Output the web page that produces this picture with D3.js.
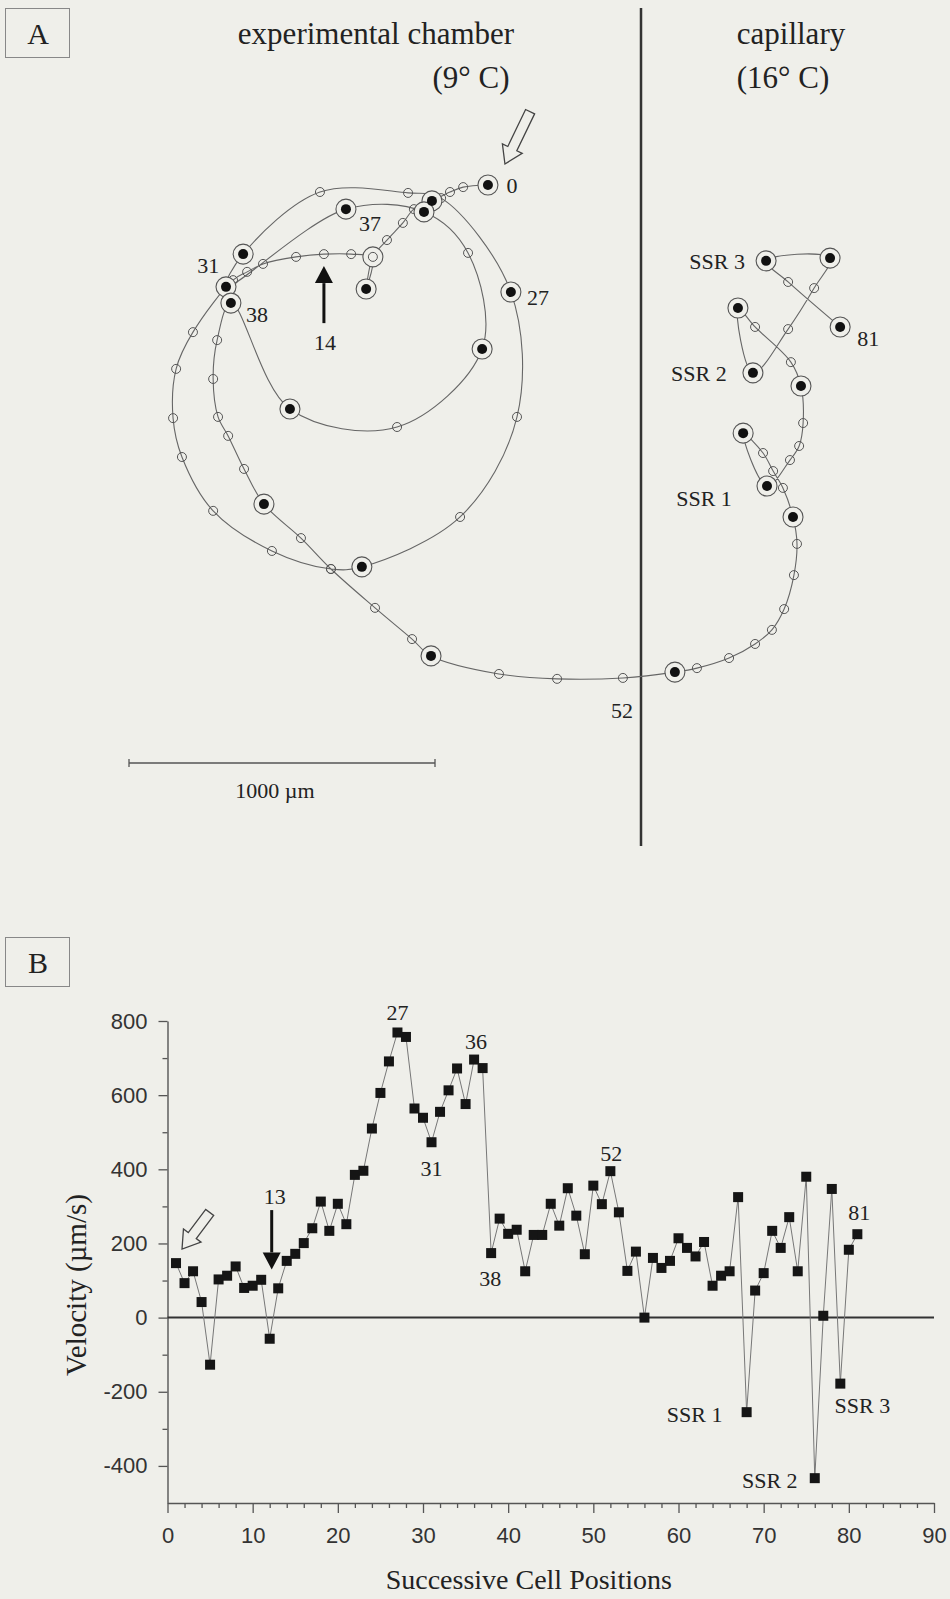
<!DOCTYPE html>
<html>
<head>
<meta charset="utf-8">
<script src="https://cdn.jsdelivr.net/npm/d3@7"></script>
<style>
  html, body { margin: 0; padding: 0; background: #efefea; }
  svg { display: block; }
  .serif { font-family: "Liberation Serif", "Times New Roman", serif; fill: #222; }
  .tick text { font-family: "Liberation Sans", Arial, sans-serif; fill: #333; }
</style>
</head>
<body>
<div id="chart"></div>
<script>
// Cell track and velocity figure
// Panel A: path of one cell, panel B: its velocity at each successive position

// --- Panel A data: track positions in µm (x to the right, y upwards) ---
const trackX = [1173, 1092, 1049, 990, 931, 895, 843, 797, 775, 794,
  726, 637, 546, 438, 386, 340, 209, 154, 144, 173,
  275, 467, 660, 761, 1082, 1268, 1248, 1020, 912, 624, 373,
  317, 709, 964, 1108, 1154, 876, 526, 333, 288, 275,
  291, 324, 376, 441, 562, 660, 804, 925, 987, 1209,
  1399, 1614, 1784, 1856, 1961, 2046, 2101, 2141, 2173, 2183,
  2170, 2137, 2105, 2072, 2007, 2085, 2160, 2190, 2203, 2196,
  2163, 2046, 1990, 2039, 2154, 2239, 2291, 2082, 2154, 2324];
const trackY = [1889, 1882, 1866, 1837, 1810, 1765, 1709, 1654, 1549, 1650,
  1663, 1663, 1654, 1631, 1605, 1578, 1408, 1288, 1127, 1000,
  824, 693, 634, 641, 804, 1131, 1539, 1846, 1863, 1866, 1663,
  1556, 1810, 1801, 1667, 1353, 1098, 1157, 1503, 1382, 1255,
  1131, 1069, 961, 846, 735, 634, 507, 405, 350, 291,
  275, 278, 297, 310, 343, 389, 435, 503, 614, 716,
  804, 899, 954, 1013, 1078, 905, 990, 1036, 1111, 1232,
  1310, 1425, 1487, 1275, 1418, 1552, 1650, 1641, 1572, 1425];
// F = marked position (ring with dot), o = plain position, r = ring only
const trackKind = ['F', 'o', 'o', 'F', 'o', 'o', 'o', 'r', 'F', 'o',
  'o', 'o', 'o', 'o', 'o', 'o', 'o', 'o', 'o', 'o',
  'o', 'o', 'o', 'F', 'o', 'o', 'F', 'o', 'o', 'o', 'F',
  'F', 'F', 'F', 'o', 'F', 'o', 'F', 'F', 'o', 'o',
  'o', 'o', 'o', 'F', 'o', 'o', 'o', 'o', 'F', 'o',
  'o', 'o', 'F', 'o', 'o', 'o', 'o', 'o', 'o', 'o',
  'F', 'o', 'o', 'o', 'F', 'F', 'o', 'o', 'o', 'F',
  'o', 'o', 'F', 'F', 'o', 'o', 'F', 'F', 'o', 'F'];

const scaleBarLength = 1000; // µm

// --- Panel B data ---
const positions = d3.range(1, 82);
const velocity = [147, 93, 125, 42, -127, 103, 113, 138, 80, 86,
  102, -57, 79, 153, 172, 201, 241, 313, 234, 307,
  252, 385, 396, 510, 606, 691, 769, 757, 564, 539,
  473, 555, 613, 672, 576, 696, 673, 174, 267, 226,
  237, 125, 223, 223, 307, 248, 349, 275, 171, 356,
  306, 395, 284, 126, 178, 0, 161, 134, 153, 214,
  188, 165, 204, 86, 113, 125, 325, -255, 73, 120,
  234, 188, 271, 125, 380, -433, 5, 347, -178, 183,
  225];
const yTicksB = [-400, -200, 0, 200, 400, 600, 800];
const yMinorB = [-300, -100, 100, 300, 500, 700];
const xTicksB = d3.range(0, 91, 10);
const xMinorB = d3.range(2, 90, 2).filter(d => d % 10 !== 0);

const W = 950, H = 1599;
const lineGrey = '#666', bg = '#efefea';

const svg = d3.select('#chart').append('svg')
  .attr('width', W)
  .attr('height', H);

svg.append('rect').attr('width', W).attr('height', H).attr('fill', bg);

// small helpers for the arrows
function openArrow(g, tipX, tipY, angle, len) {
  const hw = 5, headW = 11, headL = 17;
  const pts = [[0, -hw], [len - headL, -hw], [len - headL, -headW], [len, 0],
    [len - headL, headW], [len - headL, hw], [0, hw]];
  g.append('polygon')
    .attr('points', pts.map(p => p.join(',')).join(' '))
    .attr('transform', `translate(${tipX},${tipY}) rotate(${angle}) translate(${-len},0)`)
    .attr('fill', 'none')
    .attr('stroke', '#444')
    .attr('stroke-width', 1.3);
}

function solidArrow(g, x, yTail, yTip) {
  const headL = 17, headW = 9, dir = Math.sign(yTip - yTail);
  g.append('line')
    .attr('x1', x).attr('x2', x)
    .attr('y1', yTail).attr('y2', yTip - dir * headL)
    .attr('stroke', '#111').attr('stroke-width', 3);
  g.append('polygon')
    .attr('points', `${x},${yTip} ${x - headW},${yTip - dir * headL} ${x + headW},${yTip - dir * headL}`)
    .attr('fill', '#111');
}

function panelBox(letter, y) {
  svg.append('rect')
    .attr('x', 5.5).attr('y', y + 0.5)
    .attr('width', 64).attr('height', 49)
    .attr('fill', 'none').attr('stroke', '#888').attr('stroke-width', 1);
  svg.append('text').attr('class', 'serif')
    .attr('x', 38).attr('y', y + 25).attr('dy', '0.35em')
    .attr('text-anchor', 'middle')
    .style('font-size', '30px')
    .text(letter);
}

// ================= Panel A =================
const gA = svg.append('g');
panelBox('A', 8);

const xA = d3.scaleLinear().domain([0, 1000]).range([129, 435]);
const yA = d3.scaleLinear().domain([0, 1000]).range([763, 457]);

const titles = [
  { text: 'experimental chamber', x: 376, y: 33 },
  { text: '(9° C)', x: 471, y: 77 },
  { text: 'capillary', x: 791, y: 33 },
  { text: '(16° C)', x: 783, y: 77 }
];
gA.selectAll('.title').data(titles).enter().append('text')
  .attr('class', 'serif title')
  .attr('x', d => d.x).attr('y', d => d.y).attr('dy', '0.35em')
  .attr('text-anchor', 'middle')
  .style('font-size', '31px')
  .text(d => d.text);

// divider between chamber and capillary
gA.append('line')
  .attr('x1', 641).attr('x2', 641)
  .attr('y1', 8).attr('y2', 846)
  .attr('stroke', '#333').attr('stroke-width', 2.5);

const track = trackX.map((x, i) => ({ i, x, y: trackY[i], kind: trackKind[i] }));

const trackLine = d3.line()
  .x(d => xA(d.x))
  .y(d => yA(d.y))
  .curve(d3.curveCatmullRom.alpha(0.5));

gA.append('path')
  .datum(track)
  .attr('d', trackLine)
  .attr('fill', 'none')
  .attr('stroke', lineGrey)
  .attr('stroke-width', 1.1);

// plain positions
gA.selectAll('.pos').data(track.filter(d => d.kind === 'o')).enter().append('circle')
  .attr('class', 'pos')
  .attr('cx', d => xA(d.x)).attr('cy', d => yA(d.y))
  .attr('r', 4.5)
  .attr('fill', 'none')
  .attr('stroke', '#555').attr('stroke-width', 1);

// marked positions: ring, then dot
const marked = track.filter(d => d.kind !== 'o');
gA.selectAll('.ring').data(marked).enter().append('circle')
  .attr('class', 'ring')
  .attr('cx', d => xA(d.x)).attr('cy', d => yA(d.y))
  .attr('r', 10)
  .attr('fill', bg)
  .attr('stroke', '#555').attr('stroke-width', 1.1);
gA.selectAll('.inner').data(track.filter(d => d.kind === 'r')).enter().append('circle')
  .attr('class', 'inner')
  .attr('cx', d => xA(d.x)).attr('cy', d => yA(d.y))
  .attr('r', 4.5)
  .attr('fill', 'none')
  .attr('stroke', '#555').attr('stroke-width', 1);
gA.selectAll('.dot').data(track.filter(d => d.kind === 'F')).enter().append('circle')
  .attr('class', 'dot')
  .attr('cx', d => xA(d.x)).attr('cy', d => yA(d.y))
  .attr('r', 5)
  .attr('fill', '#111');

// labels next to the track
const notesA = [
  { text: '0', at: 0, dx: 24, dy: 0 },
  { text: '14', at: 11, dx: 1, dy: 88 },
  { text: '27', at: 26, dx: 27, dy: 5 },
  { text: '31', at: 30, dx: -35, dy: 11 },
  { text: '37', at: 32, dx: 24, dy: 14 },
  { text: '38', at: 38, dx: 26, dy: 11 },
  { text: '52', at: 52, dx: -1, dy: 32 },
  { text: 'SSR 1', at: 66, dx: -63, dy: 12 },
  { text: 'SSR 2', at: 74, dx: -54, dy: 0 },
  { text: 'SSR 3', at: 78, dx: -49, dy: 0 },
  { text: '81', at: 80, dx: 28, dy: 11 }
];
gA.selectAll('.noteA').data(notesA).enter().append('text')
  .attr('class', 'serif noteA')
  .attr('x', d => xA(trackX[d.at]) + d.dx)
  .attr('y', d => yA(trackY[d.at]) + d.dy)
  .attr('dy', '0.35em')
  .attr('text-anchor', 'middle')
  .style('font-size', '22px')
  .text(d => d.text);

// arrows: start of the track and position 14
openArrow(gA, xA(trackX[0]) + 17, yA(trackY[0]) - 21, 115.7, 58);
solidArrow(gA, xA(trackX[11]), yA(trackY[11]) + 69, yA(trackY[11]) + 12);

// scale bar
const sb = gA.append('g');
sb.append('line')
  .attr('x1', xA(0)).attr('x2', xA(scaleBarLength))
  .attr('y1', yA(0)).attr('y2', yA(0))
  .attr('stroke', '#555').attr('stroke-width', 1.3);
[0, scaleBarLength].forEach(v => {
  sb.append('line')
    .attr('x1', xA(v)).attr('x2', xA(v))
    .attr('y1', yA(0) - 4).attr('y2', yA(0) + 4)
    .attr('stroke', '#555').attr('stroke-width', 1.3);
});
sb.append('text').attr('class', 'serif')
  .attr('x', (xA(0) + xA(scaleBarLength)) / 2 - 7)
  .attr('y', yA(0) + 27).attr('dy', '0.35em')
  .attr('text-anchor', 'middle')
  .style('font-size', '22px')
  .text('1000 µm');

// ================= Panel B =================
const gB = svg.append('g');
panelBox('B', 937);

const xB = d3.scaleLinear().domain([0, 90]).range([167.5, 934]);
const yB = d3.scaleLinear().domain([-500, 800]).range([1503, 1021]);

// axes
gB.append('g')
  .attr('transform', `translate(${xB(0)},0)`)
  .call(d3.axisLeft(yB).tickValues(yTicksB).tickSize(9).tickPadding(11)
    .tickSizeOuter(0).tickFormat(d => String(d)));
gB.append('g')
  .attr('transform', `translate(${xB(0)},0)`)
  .call(d3.axisLeft(yB).tickValues(yMinorB).tickSize(5).tickFormat(''))
  .call(g => g.select('.domain').remove());

gB.append('g')
  .attr('transform', `translate(0,${yB(-500)})`)
  .call(d3.axisBottom(xB).tickValues(xTicksB).tickSize(10).tickPadding(14)
    .tickSizeOuter(0));
gB.append('g')
  .attr('transform', `translate(0,${yB(-500)})`)
  .call(d3.axisBottom(xB).tickValues(xMinorB).tickSize(5).tickFormat(''))
  .call(g => g.select('.domain').remove());

gB.selectAll('.domain').attr('stroke', '#555').attr('stroke-width', 1.4);
gB.selectAll('.tick line').attr('stroke', '#555').attr('stroke-width', 1.3);
gB.selectAll('.tick text').style('font-size', '22px');

// zero line
gB.append('line')
  .attr('x1', xB(0)).attr('x2', xB(90))
  .attr('y1', yB(0)).attr('y2', yB(0))
  .attr('stroke', '#333').attr('stroke-width', 2);

// axis titles
gB.append('text').attr('class', 'serif')
  .attr('x', (xB(0) + xB(90)) / 2 - 22)
  .attr('y', 1579).attr('dy', '0.35em')
  .attr('text-anchor', 'middle')
  .style('font-size', '28px')
  .text('Successive Cell Positions');
gB.append('text').attr('class', 'serif')
  .attr('transform', 'translate(76,1285) rotate(-90)')
  .attr('dy', '0.35em')
  .attr('text-anchor', 'middle')
  .style('font-size', '29px')
  .text('Velocity (µm/s)');

// velocity line and squares
const vel = positions.map((p, i) => ({ p, v: velocity[i] }));
gB.append('path')
  .datum(vel)
  .attr('d', d3.line().x(d => xB(d.p)).y(d => yB(d.v)))
  .attr('fill', 'none')
  .attr('stroke', '#777')
  .attr('stroke-width', 1);
gB.selectAll('.sq').data(vel).enter().append('rect')
  .attr('class', 'sq')
  .attr('x', d => xB(d.p) - 5).attr('y', d => yB(d.v) - 5)
  .attr('width', 10).attr('height', 10)
  .attr('fill', '#151515');

// labels at selected positions
const notesB = [
  { text: '27', at: 27, dx: 0, dy: -20 },
  { text: '36', at: 36, dx: 2, dy: -18 },
  { text: '31', at: 31, dx: 0, dy: 26 },
  { text: '38', at: 38, dx: -1, dy: 25 },
  { text: '52', at: 52, dx: 1, dy: -18 },
  { text: '81', at: 81, dx: 2, dy: -22 },
  { text: 'SSR 1', at: 68, dx: -52, dy: 2 },
  { text: 'SSR 2', at: 76, dx: -45, dy: 2 },
  { text: 'SSR 3', at: 79, dx: 22, dy: 22 }
];
gB.selectAll('.noteB').data(notesB).enter().append('text')
  .attr('class', 'serif noteB')
  .attr('x', d => xB(d.at) + d.dx)
  .attr('y', d => yB(velocity[d.at - 1]) + d.dy)
  .attr('dy', '0.35em')
  .attr('text-anchor', 'middle')
  .style('font-size', '22px')
  .text(d => d.text);

// arrow at position 13 and open arrow at the start
solidArrow(gB, xB(12) + 2, yB(290), yB(130));
gB.append('text').attr('class', 'serif')
  .attr('x', xB(12) + 5).attr('y', yB(326)).attr('dy', '0.35em')
  .attr('text-anchor', 'middle')
  .style('font-size', '22px')
  .text('13');
openArrow(gB, xB(1) + 6, yB(velocity[0]) - 14, 127, 46);
</script>
</body>
</html>
